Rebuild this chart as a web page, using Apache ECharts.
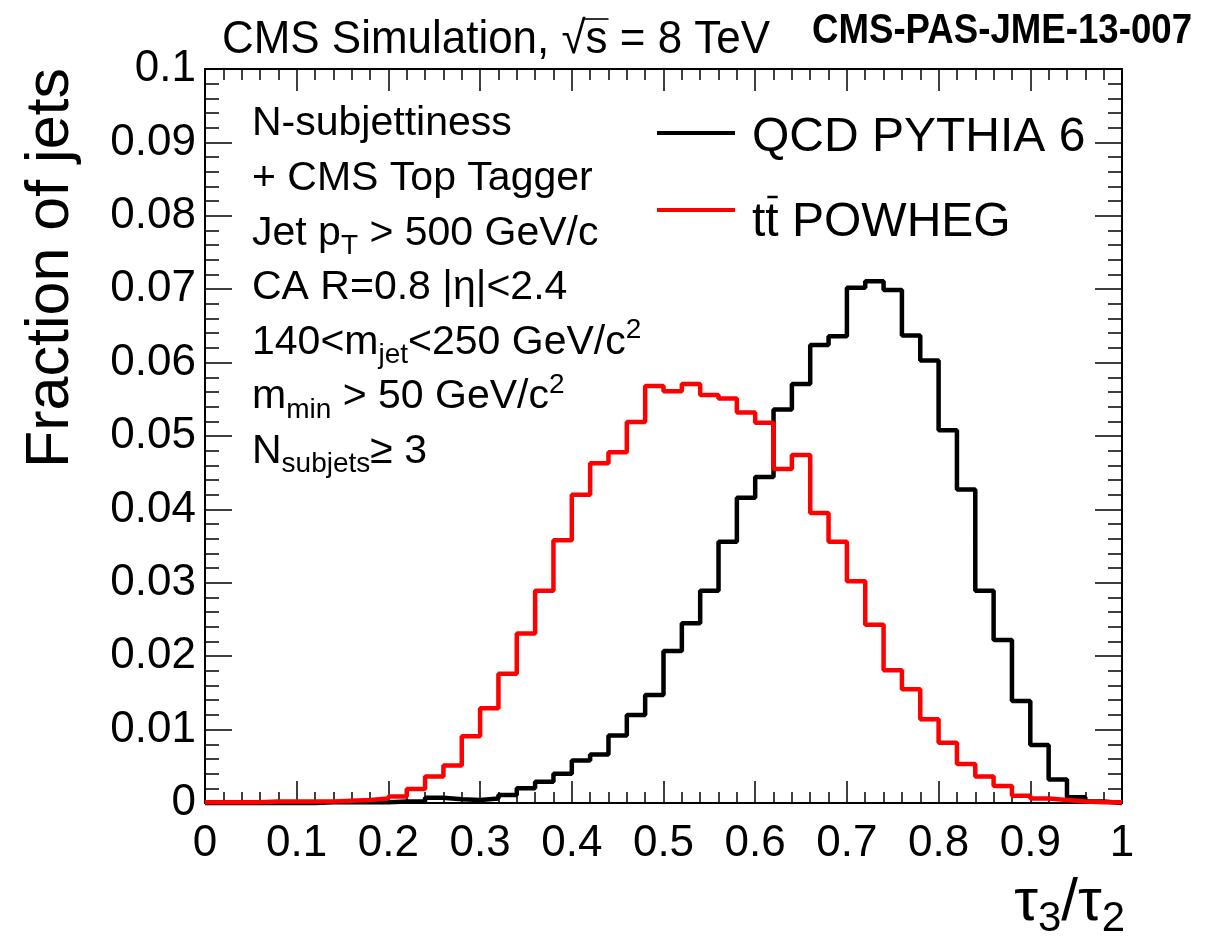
<!DOCTYPE html>
<html>
<head>
<meta charset="utf-8">
<script src="https://cdn.jsdelivr.net/npm/echarts@6/dist/echarts.min.js"></script>
<style>
  html, body { margin: 0; padding: 0; background: #ffffff; }
  #chart { width: 1225px; height: 940px; }
</style>
</head>
<body>
<div id="chart"></div>
<script>
// tau3/tau2 histograms: 50 bins of width 0.02 between 0 and 1, normalised to unit area
const binWidth = 0.02;
const xRange = [0, 1];
const yRange = [0, 0.1];

// QCD multijet sample (PYTHIA 6)
const qcdPythia6 = [
  0.0000, 0.0000, 0.0000, 0.0000, 0.0000, 0.0000, 0.0001, 0.0001, 0.0001, 0.0001,
  0.0002, 0.0002, 0.0007, 0.0005, 0.0004, 0.0006, 0.0011, 0.0020, 0.0029, 0.0040,
  0.0058, 0.0066, 0.0092, 0.0120, 0.0147, 0.0207, 0.0245, 0.0289, 0.0356, 0.0416,
  0.0444, 0.0536, 0.0571, 0.0624, 0.0636, 0.0702, 0.0711, 0.0699, 0.0637, 0.0603,
  0.0508, 0.0427, 0.0289, 0.0222, 0.0139, 0.0079, 0.0032, 0.0008, 0.0002, 0.0000
];

// top-pair sample (POWHEG)
const ttPowheg = [
  0.0001, 0.0001, 0.0001, 0.0002, 0.0002, 0.0002, 0.0002, 0.0003, 0.0004, 0.0006,
  0.0009, 0.0019, 0.0036, 0.0051, 0.0091, 0.0129, 0.0176, 0.0231, 0.0289, 0.0358,
  0.0420, 0.0463, 0.0478, 0.0519, 0.0568, 0.0561, 0.0571, 0.0556, 0.0551, 0.0532,
  0.0518, 0.0455, 0.0474, 0.0395, 0.0356, 0.0302, 0.0243, 0.0181, 0.0155, 0.0114,
  0.0082, 0.0053, 0.0036, 0.0023, 0.0010, 0.0006, 0.0004, 0.0002, 0.0001, 0.0001
];

const seriesNames = ['QCD PYTHIA 6', 'tt POWHEG'];
const selectionLines = [
  'N-subjettiness',
  '+ CMS Top Tagger',
  '{n|Jet p}{sub|T}{n| > 500 GeV/c}',
  'CA R=0.8 |\u03b7|<2.4',
  '{n|140<m}{sub|jet}{n|<250 GeV/c}{sup|2}',
  '{n|m}{sub|min}{n| > 50 GeV/c}{sup|2}',
  '{n|N}{sub|subjets}{n|\u2265 3}'
];

// Outline of a histogram: one point at each lower bin edge plus the closing upper edge
function histOutline(values) {
  const pts = values.map((v, k) => [xRange[0] + k * binWidth, v]);
  pts.push([xRange[0] + values.length * binWidth, values[values.length - 1]]);
  return pts;
}

const FONT = '"Liberation Sans", Arial, Helvetica, sans-serif';

const measureCtx = document.createElement('canvas').getContext('2d');
function textWidth(str, font) {
  measureCtx.font = font;
  return measureCtx.measureText(str).width;
}

const chart = echarts.init(document.getElementById('chart'), null, { renderer: 'canvas' });

const gridBox = { left: 205, right: 103, top: 69, bottom: 137 };

function frameAxis(extra) {
  return Object.assign({
    type: 'value',
    axisLine: { show: true, onZero: false, lineStyle: { color: '#000', width: 2 } },
    splitLine: { show: false },
    minorSplitLine: { show: false }
  }, extra);
}

const labelFont = { color: '#000', fontFamily: FONT, fontSize: 44 };

// title line, slightly condensed
const titleX = 222, titleY = 40, titleSize = 46, titleWidth = 548;
const titleFont = titleSize + 'px ' + FONT;
const titleText = 'CMS Simulation, \u221as = 8 TeV';
const titleScale = titleWidth / textWidth(titleText, titleFont);
const sqrtEnd = titleX + titleScale * textWidth('CMS Simulation, \u221a', titleFont);
const sEnd = titleX + titleScale * textWidth('CMS Simulation, \u221as', titleFont);

// document number, bold condensed
const pasText = 'CMS-PAS-JME-13-007';
const pasFont = 'bold 42px ' + FONT;
const pasScale = 380 / textWidth(pasText, pasFont);

// legend geometry
const legX0 = 657, legX1 = 735, legTextX = 752, legSize = 48;
const legLineY = [133, 210];
const legTextY = [138, 223];
const legFont = legSize + 'px ' + FONT;
const tW = textWidth('t', legFont);

const blockX = 252, blockY0 = 124, blockStep = 54.6, blockSize = 41;
const blockRich = {
  n: { fontSize: blockSize, fontFamily: FONT, fill: '#000' },
  sub: { fontSize: 28, fontFamily: FONT, fill: '#000', padding: [26, 0, 0, 0] },
  sup: { fontSize: 28, fontFamily: FONT, fill: '#000', padding: [0, 0, 24, 0] }
};

const graphics = [];
graphics.push({
  type: 'text', x: titleX, y: titleY, scaleX: titleScale,
  style: { text: titleText, font: titleFont, fill: '#000', align: 'left', verticalAlign: 'middle' }
});
graphics.push({
  type: 'line', shape: { x1: sqrtEnd - 2, y1: titleY - 21, x2: sEnd + 1, y2: titleY - 21 },
  style: { stroke: '#000', lineWidth: 1.6 }
});
graphics.push({
  type: 'text', x: 1192, y: 31, scaleX: pasScale,
  style: { text: pasText, font: pasFont, fill: '#000', align: 'right', verticalAlign: 'middle' }
});
selectionLines.forEach((line, i) => {
  graphics.push({
    type: 'text', x: blockX, y: blockY0 + i * blockStep,
    style: { text: line, font: blockSize + 'px ' + FONT, fill: '#000', align: 'left', verticalAlign: 'middle', rich: blockRich }
  });
});
// legend entries
[['#000000', seriesNames[0]], ['#ff0000', seriesNames[1]]].forEach(([col, label], i) => {
  graphics.push({
    type: 'line', shape: { x1: legX0, y1: legLineY[i], x2: legX1, y2: legLineY[i] },
    style: { stroke: col, lineWidth: 4 }
  });
  graphics.push({
    type: 'text', x: legTextX, y: legTextY[i],
    style: { text: label, font: legFont, fill: '#000', align: 'left', verticalAlign: 'middle' }
  });
});
// bar over the anti-top
graphics.push({
  type: 'line', shape: { x1: legTextX + tW + 2, y1: legTextY[1] - 26, x2: legTextX + 2 * tW - 1, y2: legTextY[1] - 26 },
  style: { stroke: '#000', lineWidth: 2.5 }
});
// axis titles
graphics.push({
  type: 'text', x: 51, y: 68, rotation: Math.PI / 2,
  style: { text: 'Fraction of jets', font: '61px ' + FONT, fill: '#000', align: 'right', verticalAlign: 'middle' }
});
graphics.push({
  type: 'text', x: 1125, y: 903,
  style: {
    text: '{t|\u03c4}{s|3}{t|/\u03c4}{s|2}', align: 'right', verticalAlign: 'middle',
    rich: {
      t: { fontSize: 60, fontFamily: FONT, fill: '#000' },
      s: { fontSize: 42, fontFamily: FONT, fill: '#000', padding: [32, 0, 0, 0] }
    }
  }
});

const tickStyle = { color: '#000', width: 1.5 };

const option = {
  animation: false,
  backgroundColor: '#ffffff',
  grid: Object.assign({ containLabel: false }, gridBox),
  xAxis: [
    frameAxis({
      position: 'bottom', min: xRange[0], max: xRange[1], interval: 0.1,
      axisTick: { show: true, inside: true, length: 22, lineStyle: tickStyle },
      minorTick: { show: true, splitNumber: 5, length: 11, lineStyle: tickStyle },
      axisLabel: Object.assign({ margin: 19, formatter: v => String(+v.toFixed(2)) }, labelFont)
    }),
    frameAxis({
      position: 'top', min: xRange[0], max: xRange[1], interval: 0.1,
      axisTick: { show: true, inside: true, length: 22, lineStyle: tickStyle },
      minorTick: { show: true, splitNumber: 5, length: 11, lineStyle: tickStyle },
      axisLabel: { show: false }
    })
  ],
  yAxis: [
    frameAxis({
      position: 'left', min: yRange[0], max: yRange[1], interval: 0.01,
      axisTick: { show: true, inside: true, length: 27, lineStyle: tickStyle },
      minorTick: { show: true, splitNumber: 5, length: 14, lineStyle: tickStyle },
      axisLabel: Object.assign({ margin: 9, formatter: v => String(+v.toFixed(3)) }, labelFont)
    }),
    frameAxis({
      position: 'right', min: yRange[0], max: yRange[1], interval: 0.01,
      axisTick: { show: true, inside: true, length: 27, lineStyle: tickStyle },
      minorTick: { show: true, splitNumber: 5, length: 14, lineStyle: tickStyle },
      axisLabel: { show: false }
    })
  ],
  series: [
    {
      name: seriesNames[0], type: 'line', step: 'end', symbol: 'none', clip: false,
      xAxisIndex: 0, yAxisIndex: 0,
      lineStyle: { color: '#000000', width: 4.5 },
      data: histOutline(qcdPythia6), z: 3
    },
    {
      name: seriesNames[1], type: 'line', step: 'end', symbol: 'none', clip: false,
      xAxisIndex: 0, yAxisIndex: 0,
      lineStyle: { color: '#ff0000', width: 4.5 },
      data: histOutline(ttPowheg), z: 4
    }
  ],
  graphic: graphics
};

chart.setOption(option);
</script>
</body>
</html>
